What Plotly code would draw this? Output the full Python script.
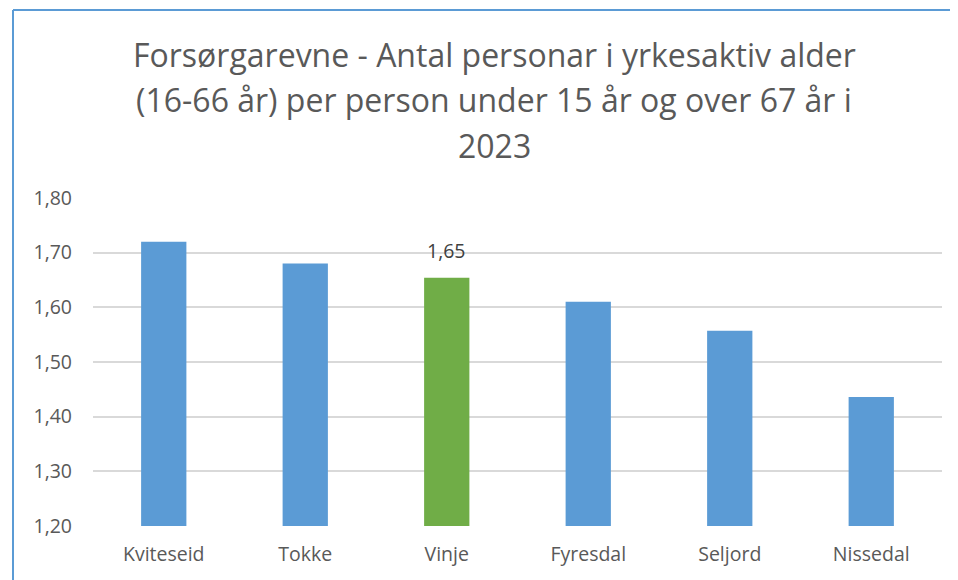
import plotly.graph_objects as go

categories = ["Kviteseid", "Tokke", "Vinje", "Fyresdal", "Seljord", "Nissedal"]
values = [1.72, 1.68, 1.654, 1.61, 1.557, 1.436]
bar_colors = ["#5B9BD5", "#5B9BD5", "#70AD47", "#5B9BD5", "#5B9BD5", "#5B9BD5"]
title_lines = [
    "Forsørgarevne - Antal personar i yrkesaktiv alder",
    "(16-66 år) per person under 15 år og over 67 år i",
    "2023",
]
y_ticks = [1.2, 1.3, 1.4, 1.5, 1.6, 1.7, 1.8]
highlight = "Vinje"
highlight_label = "1,65"

FONT = "Open Sans"
TXT = "#595959"

fig = go.Figure(go.Bar(
    x=categories, y=values, marker_color=bar_colors, marker_line_width=0,
    hoverinfo="skip",
))

# page body has an 8px margin, so the figure is 8px smaller than the window
fig.update_layout(
    width=950, height=572,
    margin=dict(l=85, r=16, t=190, b=54),
    paper_bgcolor="white", plot_bgcolor="white",
    separators=", ",
    bargap=0.68,
    showlegend=False,
    font=dict(family=FONT, color=TXT),
)
fig.update_yaxes(
    range=[1.2, 1.8], tickvals=y_ticks, tickformat=".2f",
    showgrid=True, gridcolor="#D9D9D9", gridwidth=1.5,
    zeroline=False, showline=False, ticks="",
    tickfont=dict(size=19.5, color=TXT, family=FONT), ticklabelstandoff=20,
)
fig.update_xaxes(
    showgrid=False, showline=False, ticks="",
    tickfont=dict(size=19.5, color=TXT, family=FONT), ticklabelstandoff=14,
)

# title lines
ys = [55, 100, 145]
for line, py in zip(title_lines, ys):
    fig.add_annotation(
        text=line, xref="paper", yref="paper",
        x=(494 - 93) / 849, y=(526 - py) / 328,
        showarrow=False, xanchor="center", yanchor="middle",
        font=dict(size=32, color=TXT, family=FONT),
    )

# data label
fig.add_annotation(
    x=highlight, y=values[categories.index(highlight)], text=highlight_label,
    showarrow=False, yanchor="bottom", yshift=12,
    font=dict(size=19.5, color="#404040", family=FONT),
)

# chart border (left and top edges visible)
bx0 = (13 - 93) / 849
bx1 = (958 - 93) / 849
by1 = (526 - 10) / 328
by0 = (526 - 580) / 328
fig.add_shape(type="line", xref="paper", yref="paper", x0=bx0, x1=bx0, y0=by0, y1=by1,
              line=dict(color="#5B9BD5", width=2))
fig.add_shape(type="line", xref="paper", yref="paper", x0=bx0, x1=bx1, y0=by1, y1=by1,
              line=dict(color="#5B9BD5", width=2))

fig.write_html("out.html", config={"displayModeBar": False})
